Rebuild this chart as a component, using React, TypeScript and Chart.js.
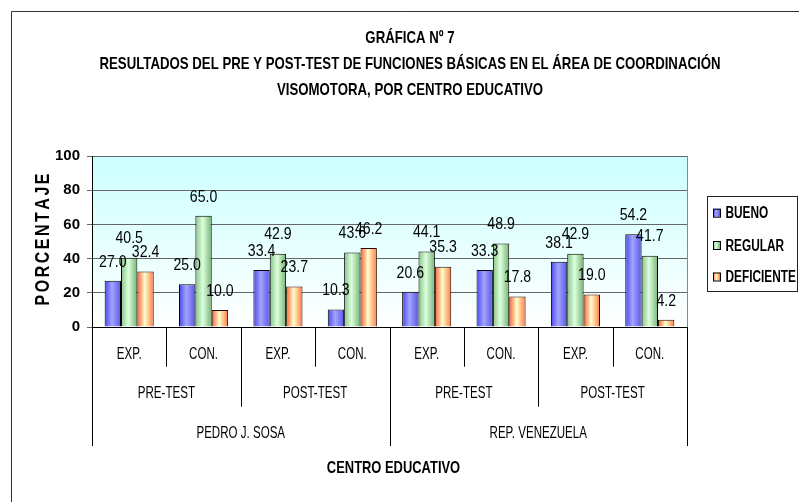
import React, { useEffect, useRef } from "react";
import { Chart, registerables } from "chart.js";
Chart.register(...registerables);

const categories = ["EXP.", "CON.", "EXP.", "CON.", "EXP.", "CON.", "EXP.", "CON."];
const testGroups = ["PRE-TEST", "POST-TEST", "PRE-TEST", "POST-TEST"];
const schools = ["PEDRO J. SOSA", "REP. VENEZUELA"];
const seriesNames = ["BUENO", "REGULAR", "DEFICIENTE"];
const bueno = [27.0, 25.0, 33.4, 10.3, 20.6, 33.3, 38.1, 54.2];
const regular = [40.5, 65.0, 42.9, 43.6, 44.1, 48.9, 42.9, 41.7];
const deficiente = [32.4, 10.0, 23.7, 46.2, 35.3, 17.8, 19.0, 4.2];
const yMin = 0;
const yMax = 100;
const yStep = 20;
const titleLines = [
  "GRÁFICA Nº 7",
  "RESULTADOS DEL PRE Y POST-TEST DE FUNCIONES BÁSICAS EN EL ÁREA DE COORDINACIÓN",
  "VISOMOTORA, POR CENTRO EDUCATIVO",
];
const yTitle = "PORCENTAJE";
const xTitle = "CENTRO EDUCATIVO";

const FONT = "'Liberation Sans', Arial, sans-serif";
const CAT_PCT = 0.66;
const palettes = [
  ["#4646ee", "#a4a4ff", "#5656e8"],
  ["#86c286", "#dcffdc", "#74b274"],
  ["#ff5a30", "#ffffcc", "#ff7a44"],
];
const borderColors = ["#000000", "#000000", "#2a0a00"];

function makeGrad(k: number) {
  const stops = palettes[k];
  return (c: any) => {
    const chart = c.chart;
    const xs = chart.scales && chart.scales.x;
    if (!xs || !chart.chartArea || c.type !== "data") return stops[1];
    const cw = (xs.right - xs.left) / categories.length;
    const bw = (cw * CAT_PCT) / 3;
    const cx = xs.getPixelForValue(c.dataIndex) + (c.datasetIndex - 1) * bw;
    if (!isFinite(cx)) return stops[1];
    const g = chart.ctx.createLinearGradient(cx - bw / 2, 0, cx + bw / 2, 0);
    g.addColorStop(0, stops[0]);
    g.addColorStop(0.45, stops[1]);
    g.addColorStop(1, stops[2]);
    return g;
  };
}

// draws text whose cap-height centre sits at y, horizontally condensed by sx
function drawText(
  ctx: CanvasRenderingContext2D,
  text: string,
  x: number,
  y: number,
  size: number,
  bold: boolean,
  align: "left" | "center" | "right",
  sx: number
) {
  ctx.save();
  ctx.font = `${bold ? "bold " : ""}${size}px ${FONT}`;
  ctx.textBaseline = "alphabetic";
  ctx.textAlign = "left";
  const w = ctx.measureText(text).width * sx;
  const left = align === "center" ? x - w / 2 : align === "right" ? x - w : x;
  ctx.translate(left, y + 0.358 * size);
  ctx.scale(sx, 1);
  ctx.fillText(text, 0, 0);
  ctx.restore();
}

const decorPlugin = {
  id: "decor",
  beforeDraw(chart: any) {
    const { ctx, chartArea: a, width, height } = chart;
    ctx.save();
    ctx.fillStyle = "#ffffff";
    ctx.fillRect(0, 0, width, height);
    ctx.strokeStyle = "#333333";
    ctx.lineWidth = 1;
    ctx.beginPath();
    ctx.moveTo(11.5, height + 2);
    ctx.lineTo(11.5, 11.5);
    ctx.lineTo(width + 2, 11.5);
    ctx.stroke();
    const g = ctx.createLinearGradient(0, a.top, 0, a.bottom);
    g.addColorStop(0, "#ccffff");
    g.addColorStop(1, "#ffffff");
    ctx.fillStyle = g;
    ctx.fillRect(a.left, a.top, a.right - a.left, a.bottom - a.top);
    ctx.restore();
  },
  afterDatasetsDraw(chart: any) {
    const { ctx } = chart;
    ctx.save();
    ctx.fillStyle = "#000";
    chart.data.datasets.forEach((ds: any, di: number) => {
      const meta = chart.getDatasetMeta(di);
      meta.data.forEach((el: any, i: number) => {
        drawText(ctx, Number(ds.data[i]).toFixed(1), el.x, el.y - 20, 16, false, "center", 0.88);
      });
    });
    ctx.restore();
  },
  afterDraw(chart: any) {
    const { ctx, chartArea: a } = chart;
    const xs = chart.scales.x;
    ctx.save();
    ctx.fillStyle = "#000";

    // title
    ctx.font = `bold 17px ${FONT}`;
    const sxTitle = 621 / ctx.measureText(titleLines[1]).width;
    const titleY = [37, 63, 88.5];
    titleLines.forEach((t, i) => drawText(ctx, t, 410, titleY[i], 17, true, "center", sxTitle));

    // right border of plot
    ctx.strokeStyle = "#888888";
    ctx.lineWidth = 1;
    ctx.beginPath();
    ctx.moveTo(Math.round(a.right) + 0.5, a.top);
    ctx.lineTo(Math.round(a.right) + 0.5, a.bottom);
    ctx.stroke();

    // y axis title, letter-spaced, rotated
    ctx.save();
    ctx.translate(42, (a.top + a.bottom) / 2 - 2);
    ctx.rotate(-Math.PI / 2);
    ctx.font = `bold 20px ${FONT}`;
    const chars = yTitle.split("");
    const ysx = 0.8;
    const widths = chars.map((ch) => ctx.measureText(ch).width * ysx);
    const span = 132;
    const sumW = widths.reduce((p, q) => p + q, 0);
    const gap = (span - sumW) / (chars.length - 1);
    let cx = -span / 2;
    chars.forEach((ch, i) => {
      drawText(ctx, ch, cx, 0, 20, true, "left", ysx);
      cx += widths[i] + gap;
    });
    ctx.restore();

    // hierarchical x labels
    const n = categories.length;
    const cw = (xs.right - xs.left) / n;
    const base = a.bottom;
    ctx.strokeStyle = "#000";
    ctx.beginPath();
    for (let k = 0; k <= n; k++) {
      const x = Math.round(xs.left + k * cw) + 0.5;
      let len = 39.7;
      if (k % 4 === 0) len = 119;
      else if (k % 2 === 0) len = 79.7;
      ctx.moveTo(x, base);
      ctx.lineTo(x, base + len);
    }
    ctx.stroke();
    ctx.fillStyle = "#000";
    categories.forEach((c, i) => {
      drawText(ctx, c, xs.getPixelForValue(i), base + 26, 17, false, "center", 0.68);
    });
    testGroups.forEach((t, i) => {
      drawText(ctx, t, xs.left + (i * 2 + 1) * cw, base + 64.7, 17, false, "center", 0.68);
    });
    schools.forEach((s, i) => {
      drawText(ctx, s, xs.left + (i * 4 + 2) * cw, base + 104.7, 17, false, "center", 0.68);
    });
    drawText(ctx, xTitle, (a.left + a.right) / 2 + 4, base + 139.7, 17, true, "center", 0.76);

    // legend
    const lx = 707.5, ly = 196.5, lw = 90, lh = 95;
    ctx.fillStyle = "#ffffff";
    ctx.fillRect(lx, ly, lw, lh);
    ctx.strokeStyle = "#222";
    ctx.strokeRect(lx, ly, lw, lh);
    const rows = [212.7, 245, 276.5];
    seriesNames.forEach((name, i) => {
      const y = rows[i];
      const gx = 713;
      const g = ctx.createLinearGradient(gx, 0, gx + 7, 0);
      g.addColorStop(0, palettes[i][0]);
      g.addColorStop(0.45, palettes[i][1]);
      g.addColorStop(1, palettes[i][2]);
      ctx.fillStyle = g;
      ctx.fillRect(gx, y - 4, 7, 8);
      ctx.strokeStyle = "#000";
      ctx.strokeRect(gx + 0.5, y - 4 + 0.5, 7, 8);
      ctx.fillStyle = "#000";
      drawText(ctx, name, 725.5, y, 16, true, "left", 0.74);
    });
    ctx.restore();
  },
};

export default function App() {
  const ref = useRef<HTMLCanvasElement | null>(null);
  useEffect(() => {
    if (!ref.current) return;
    const chart = new Chart(ref.current, {
      type: "bar",
      data: {
        labels: categories,
        datasets: [bueno, regular, deficiente].map((d, k) => ({
          label: seriesNames[k],
          data: d,
          backgroundColor: makeGrad(k),
          borderColor: borderColors[k],
          borderWidth: 1,
          borderSkipped: "bottom",
          barPercentage: 1.0,
          categoryPercentage: CAT_PCT,
        })),
      },
      options: {
        responsive: false,
        animation: false,
        devicePixelRatio: 1,
        layout: { padding: { left: 0, right: 112, top: 156, bottom: 0 } },
        plugins: {
          legend: { display: false },
          tooltip: { enabled: false },
          title: { display: false },
        },
        scales: {
          x: {
            type: "category",
            grid: { display: false },
            ticks: { display: false },
            border: { display: true, color: "#000", width: 1 },
            afterFit: (s: any) => {
              s.height = 175;
            },
          },
          y: {
            min: yMin,
            max: yMax,
            ticks: {
              stepSize: yStep,
              color: "#000",
              padding: 7,
              font: { family: FONT, size: 15, weight: "bold" },
            },
            grid: { color: "#666666", lineWidth: 1, tickLength: 5, drawTicks: true },
            border: { display: true, color: "#000", width: 1 },
            afterFit: (s: any) => {
              s.width = 92;
            },
          },
        },
      },
      plugins: [decorPlugin],
    } as any);
    return () => chart.destroy();
  }, []);
  return (
    <div style={{ position: "absolute", left: 0, top: 0, width: 799, height: 502 }}>
      <canvas ref={ref} width={799} height={502} style={{ display: "block" }} />
    </div>
  );
}
